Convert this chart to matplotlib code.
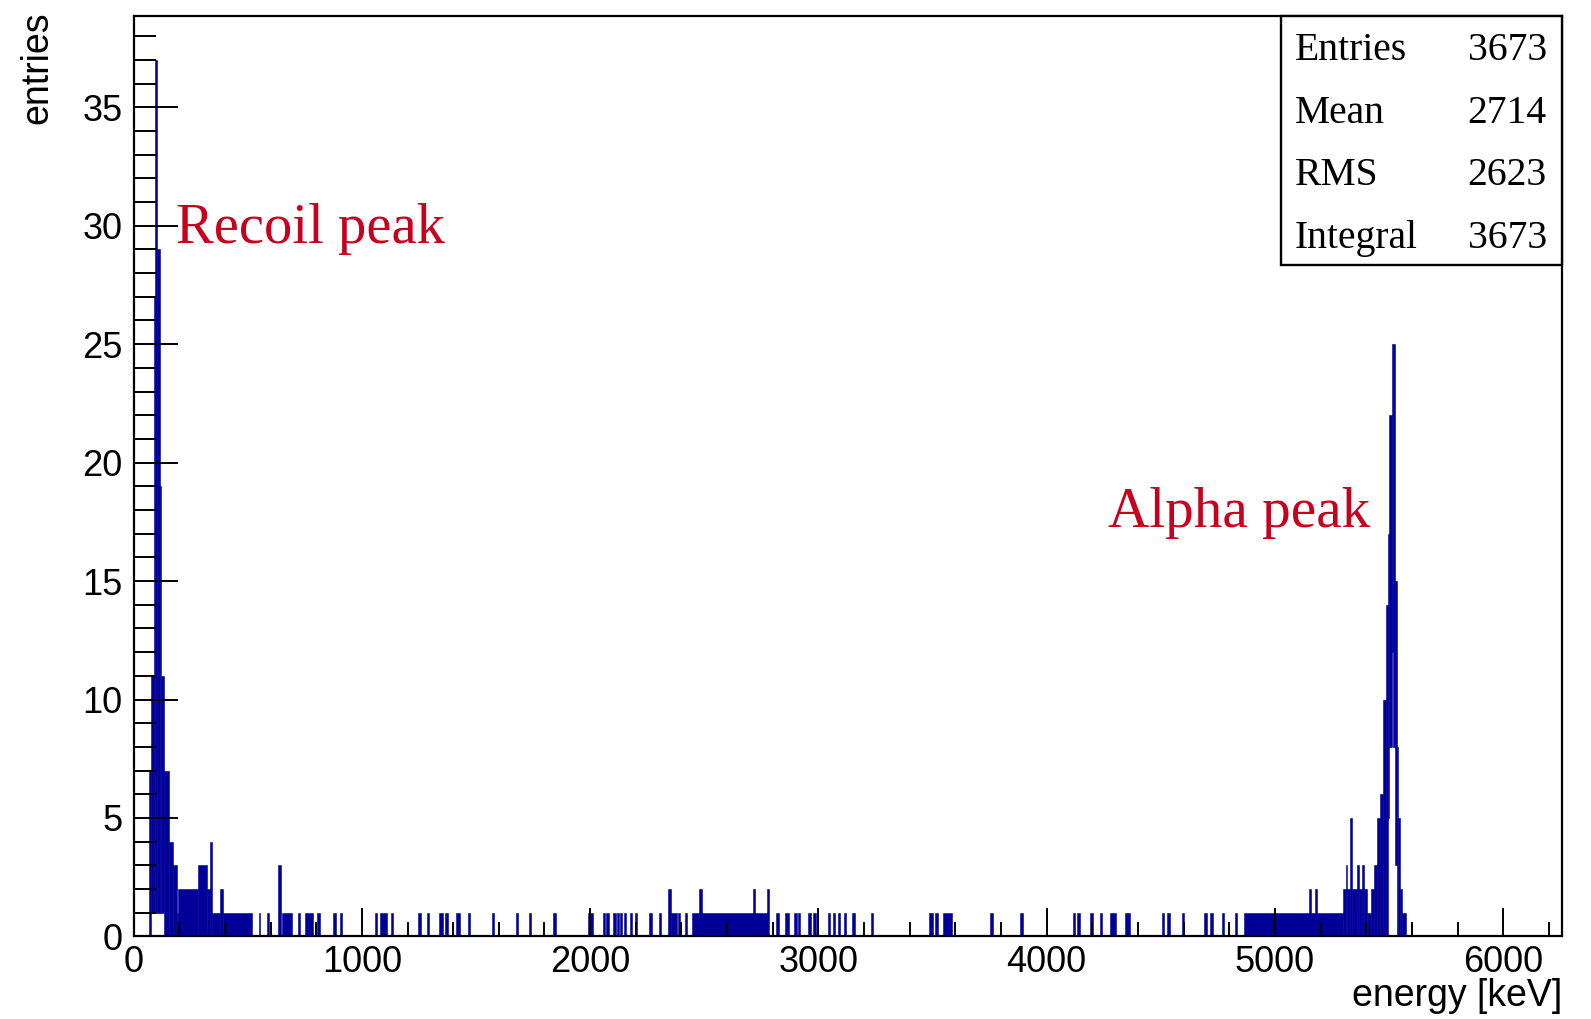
import matplotlib
matplotlib.use("Agg")
import matplotlib.pyplot as plt
from matplotlib.patches import Rectangle
from matplotlib.ticker import MultipleLocator
import numpy as np

plt.rcParams['font.family'] = ['Liberation Sans', 'DejaVu Sans']

# recoil peak: columns [edge_i, edge_i+1) filled from floor to top (counts)
recoil_edges = [68, 78, 87, 94, 104, 116, 120, 131, 153, 174, 189, 196, 283, 321, 335, 345, 379, 392, 518]
recoil_top   = [7, 11, 27, 37, 29, 19, 11, 7, 4, 3, 1, 2, 3, 2, 4, 1, 2, 1]
recoil_floor = [0, 1, 1, 1, 1, 1, 1, 0, 0, 0, 0, 0, 0, 0, 0, 0, 0, 0]

# alpha peak with its low-energy shoulder
alpha_edges = [4865, 5300, 5311, 5318, 5330, 5338, 5359, 5369, 5382, 5391, 5403, 5421, 5435,
               5449, 5461, 5475, 5487, 5495, 5502, 5512, 5518, 5527, 5534, 5541, 5549, 5557, 5573]
alpha_top   = [1, 2, 3, 2, 5, 2, 3, 2, 3, 2, 1, 2, 3, 5, 6, 10, 14, 17, 22, 25, 25, 15, 8, 5, 2, 1]
alpha_floor = [0, 0, 0, 0, 0, 0, 0, 0, 0, 0, 0, 0, 0, 0, 0, 0, 0, 5, 8, 12, 8, 3, 0, 0, 0, 0]

# scattered entries between the peaks (keV ranges and counts)
tail_lo = [548, 584, 633, 651, 719, 751, 804, 874, 905, 1058, 1080, 1127, 1247, 1284, 1338, 1365,
           1413, 1464, 1569, 1674, 1733, 1839, 1992, 2056, 2070, 2102, 2117, 2131, 2149, 2175,
           2197, 2260, 2302, 2343, 2353, 2387, 2416, 2445, 2479, 2713, 2774, 2815, 2854, 2893,
           2912, 2956, 2978, 3040, 3063, 3085, 3110, 3149, 3230, 3486, 3510, 3548, 3752, 3883,
           4114, 4134, 4190, 4234, 4278, 4344, 4504, 4529, 4592, 4690, 4717, 4767, 4826, 5149, 5175]
tail_hi = [554, 594, 646, 694, 729, 786, 817, 887, 913, 1066, 1110, 1137, 1257, 1296, 1355, 1379,
           1431, 1474, 1579, 1684, 1740, 1850, 2012, 2066, 2082, 2114, 2127, 2141, 2158, 2185,
           2207, 2273, 2311, 2353, 2380, 2394, 2426, 2781, 2489, 2723, 2784, 2828, 2873, 2905,
           2920, 2967, 2990, 3051, 3073, 3095, 3121, 3161, 3238, 3501, 3525, 3584, 3767, 3895,
           4124, 4146, 4202, 4244, 4303, 4363, 4514, 4541, 4602, 4702, 4727, 4777, 4836, 5157, 5183]
tail_n  = [1, 1, 3, 1, 1, 1, 1, 1, 1, 1, 1, 1, 1, 1, 1, 1,
           1, 1, 1, 1, 1, 1, 1, 1, 1, 1, 1, 1, 1, 1,
           1, 1, 1, 2, 1, 1, 1, 1, 2, 2, 2, 1, 1, 1,
           1, 1, 1, 1, 1, 1, 1, 1, 1, 1, 1, 1, 1, 1,
           1, 1, 1, 1, 1, 1, 1, 1, 1, 1, 1, 1, 1, 2, 2]

stat_names = ['Entries', 'Mean', 'RMS', 'Integral']
stat_values = ['3673', '2714', '2623', '3673']

blue = '#000099'
red = '#c8001e'

fig = plt.figure(figsize=(15.91, 10.19), dpi=100)
ax = fig.add_axes([0.0840, 0.0810, 0.8978, 0.9033])

def columns(edges, top, floor):
    e = np.asarray(edges, dtype=float)
    t = np.asarray(top, dtype=float)
    f = np.asarray(floor, dtype=float)
    ax.bar(e[:-1], t - f, width=np.diff(e), bottom=f, align='edge',
           color=blue, edgecolor=blue, linewidth=0.4)

columns(recoil_edges, recoil_top, recoil_floor)
columns(alpha_edges, alpha_top, alpha_floor)
ax.bar(tail_lo, tail_n, width=np.subtract(tail_hi, tail_lo), align='edge',
       color=blue, edgecolor=blue, linewidth=0.4)

ax.set_xlim(0, 6258)
ax.set_ylim(0, 38.85)

ax.xaxis.set_major_locator(MultipleLocator(1000))
ax.xaxis.set_minor_locator(MultipleLocator(200))
ax.yaxis.set_major_locator(MultipleLocator(5))
ax.yaxis.set_minor_locator(MultipleLocator(1))
ax.tick_params(axis='both', which='both', direction='in', top=False, right=False,
               width=1.4, labelsize=26)
ax.tick_params(axis='x', which='major', length=20, pad=6.5)
ax.tick_params(axis='x', which='minor', length=10)
ax.tick_params(axis='y', which='major', length=32, pad=8)
ax.tick_params(axis='y', which='minor', length=16)
for s in ax.spines.values():
    s.set_linewidth(1.6)

fig.text(1562 / 1591, 1 - 1006 / 1019, 'energy [keV]', ha='right', va='baseline', fontsize=27)
fig.text(37 / 1591, 1 - 11 / 1019, 'entries', rotation=90, ha='center', va='top', fontsize=27)

ax.text(184, 29.27, 'Recoil peak', color=red, fontsize=40.8, family='Liberation Serif',
        ha='left', va='baseline')
ax.text(4270, 17.27, 'Alpha peak', color=red, fontsize=41.2, family='Liberation Serif',
        ha='left', va='baseline')

# statistics box in the top right corner
box_y0 = 0.7300
ax.add_patch(Rectangle((0.8033, box_y0), 1 - 0.8033, 1 - box_y0, transform=ax.transAxes,
                       facecolor='white', edgecolor='black', linewidth=1.7, zorder=5,
                       clip_on=False))
for i, (name, val) in enumerate(zip(stat_names, stat_values)):
    y = 0.9522 - i * 0.0680
    ax.text(0.8131, y, name, transform=ax.transAxes, ha='left', va='baseline',
            fontsize=28.5, family='Liberation Serif', zorder=6)
    ax.text(0.9893, y, val, transform=ax.transAxes, ha='right', va='baseline',
            fontsize=28.5, family='Liberation Serif', zorder=6)

fig.savefig('out.png', dpi=100)
